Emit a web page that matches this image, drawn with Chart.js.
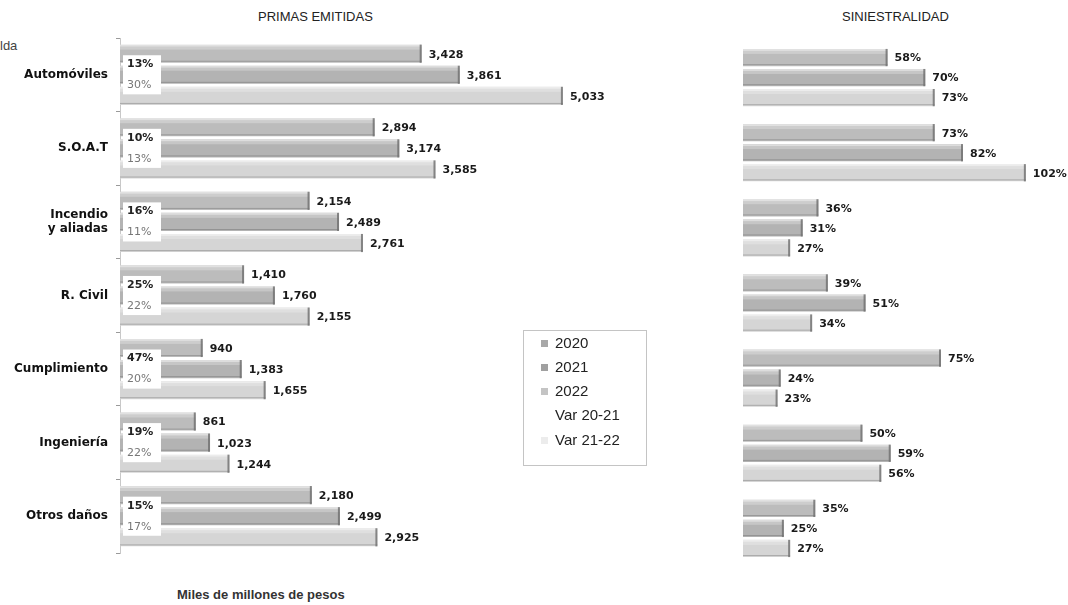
<!DOCTYPE html>
<html>
<head>
<meta charset="utf-8">
<script src="https://cdn.jsdelivr.net/npm/chart.js@4.4.1/dist/chart.umd.min.js"></script>
<style>
  html, body { margin:0; padding:0; background:#fff; }
  body { width:1068px; height:605px; position:relative; overflow:hidden; font-family:"Liberation Sans", Arial, sans-serif; }
  #c1 { position:absolute; left:0; top:0; }
  #c2 { position:absolute; left:700px; top:0; }
  .t { position:absolute; color:#222; white-space:nowrap; }
  #legend { position:absolute; left:523px; top:330px; width:122px; height:134px; border:1px solid #c4c4c4; }
  .li { position:absolute; left:0; height:20px; font-size:15px; line-height:20px; color:#222; white-space:nowrap; }
  .mk { position:absolute; left:17px; top:7px; width:7px; height:7px; }
  .lt { position:absolute; left:31px; top:0; }
</style>
</head>
<body>
<div class="t" style="left:0;top:38px;font-size:13px;color:#444;">lda</div>
<div class="t" id="title1" style="left:258px;top:9px;font-size:13px;">PRIMAS EMITIDAS</div>
<div class="t" id="title2" style="left:842px;top:9px;font-size:13px;">SINIESTRALIDAD</div>
<div class="t" id="xlab" style="left:177px;top:587px;font-size:13px;font-weight:bold;color:#333;">Miles de millones de pesos</div>
<canvas id="c1" width="700" height="605"></canvas>
<canvas id="c2" width="368" height="605"></canvas>
<div id="legend"></div>
<script>
// ---- Data ----
const categories = ["Automóviles", "S.O.A.T", ["Incendio", "y aliadas"], "R. Civil", "Cumplimiento", "Ingeniería", "Otros daños"];
const seriesNames = ["2020", "2021", "2022", "Var 20-21", "Var 21-22"];
const primas2020 = [3428, 2894, 2154, 1410, 940, 861, 2180];
const primas2021 = [3861, 3174, 2489, 1760, 1383, 1023, 2499];
const primas2022 = [5033, 3585, 2761, 2155, 1655, 1244, 2925];
const var2021 = [13, 10, 16, 25, 47, 19, 15];
const var2122 = [30, 13, 11, 22, 20, 22, 17];
const sin2020 = [58, 73, 36, 39, 75, 50, 35];
const sin2021 = [70, 82, 31, 51, 24, 59, 25];
const sin2022 = [73, 102, 27, 34, 23, 56, 27];

const barColors = ["#bcbcbc", "#b3b3b3", "#d5d5d5"];
const FONT = '"DejaVu Sans", sans-serif';

function fmtNum(v) { return v.toLocaleString('en-US'); }

// Bar shading plugin (highlight top, darker bottom line)
const shadePlugin = {
  id: 'shade',
  afterDatasetsDraw(chart) {
    const ctx = chart.ctx;
    const area = chart.chartArea;
    ctx.save();
    ctx.beginPath();
    ctx.rect(area.left, area.top, area.right - area.left, area.bottom - area.top);
    ctx.clip();
    chart.data.datasets.forEach((ds, di) => {
      const meta = chart.getDatasetMeta(di);
      meta.data.forEach(el => {
        const x0 = Math.max(el.base, area.left), x1 = el.x;
        const top = el.y - el.height / 2, bot = el.y + el.height / 2;
        ctx.fillStyle = 'rgba(255,255,255,0.55)';
        ctx.fillRect(x0, top, x1 - x0, 2);
        ctx.fillStyle = 'rgba(255,255,255,0.25)';
        ctx.fillRect(x0, top + 2, x1 - x0, 3);
        ctx.fillStyle = 'rgba(90,90,90,0.35)';
        ctx.fillRect(x0, bot - 2, x1 - x0, 1);
        ctx.fillStyle = 'rgba(110,110,110,0.8)';
        ctx.fillRect(x1 - 2, top, 2, el.height);
      });
    });
    ctx.restore();
  }
};

// Value labels plugin
function valueLabels(fmt, fontSize) {
  return {
    id: 'vlabels',
    afterDatasetsDraw(chart) {
      const ctx = chart.ctx;
      ctx.save();
      ctx.font = 'bold ' + fontSize + 'px ' + FONT;
      ctx.fillStyle = '#1a1a1a';
      ctx.textBaseline = 'middle';
      ctx.textAlign = 'left';
      chart.data.datasets.forEach((ds, di) => {
        const meta = chart.getDatasetMeta(di);
        meta.data.forEach((el, i) => {
          ctx.fillText(fmt(ds.data[i]), el.x + 7, el.y + 1);
        });
      });
      ctx.restore();
    }
  };
}

// Variation labels (white box at the bar start)
const varPlugin = {
  id: 'varlabels',
  afterDatasetsDraw(chart) {
    const ctx = chart.ctx;
    const m0 = chart.getDatasetMeta(0), m1 = chart.getDatasetMeta(1), m2 = chart.getDatasetMeta(2);
    const left = chart.chartArea.left;
    ctx.save();
    ctx.textBaseline = 'middle';
    categories.forEach((c, i) => {
      const y1 = (m0.data[i].y + m1.data[i].y) / 2;
      const y2 = (m1.data[i].y + m2.data[i].y) / 2;
      ctx.fillStyle = '#ffffff';
      ctx.fillRect(left + 3, y1 - 9, 38, y2 - y1 + 18);
      ctx.font = 'bold 11px ' + FONT;
      ctx.fillStyle = '#222';
      ctx.fillText(var2021[i] + '%', left + 7, y1);
      ctx.font = '11px ' + FONT;
      ctx.fillStyle = '#777';
      ctx.fillText(var2122[i] + '%', left + 7, y2);
    });
    ctx.restore();
  }
};

const primasDatasets = [primas2020, primas2021, primas2022].map((d, k) => ({
  label: seriesNames[k], data: d, backgroundColor: barColors[k],
  borderWidth: 0, categoryPercentage: 0.86, barPercentage: 0.86
}));

new Chart(document.getElementById('c1'), {
  type: 'bar',
  data: { labels: categories, datasets: primasDatasets },
  options: {
    indexAxis: 'y', responsive: false, animation: false,
    layout: { padding: { left: 0, right: 52, top: 38, bottom: 52 } },
    plugins: { legend: { display: false }, tooltip: { enabled: false } },
    scales: {
      x: { display: false, min: 0, max: 6000 },
      y: {
        afterFit(scale) { scale.width = 120; },
        grid: { drawOnChartArea: false, tickLength: 4, offset: true, color: '#9a9a9a' },
        border: { color: '#c8c8c8' },
        ticks: { color: '#111', padding: 8, font: { family: FONT, size: 12, weight: 'bold' } }
      }
    }
  },
  plugins: [shadePlugin, varPlugin, valueLabels(fmtNum, 11)]
});

const sinDatasets = [sin2020, sin2021, sin2022].map((d, k) => ({
  label: seriesNames[k], data: d, backgroundColor: barColors[k],
  borderWidth: 0, categoryPercentage: 0.8, barPercentage: 0.86
}));

new Chart(document.getElementById('c2'), {
  type: 'bar',
  data: { labels: categories, datasets: sinDatasets },
  options: {
    indexAxis: 'y', responsive: false, animation: false,
    layout: { padding: { left: 43, right: 17, top: 40, bottom: 39 } },
    plugins: { legend: { display: false }, tooltip: { enabled: false } },
    scales: {
      x: { display: false, min: 12, max: 110 },
      y: { display: false }
    }
  },
  plugins: [shadePlugin, valueLabels(v => v + '%', 11)]
});

// HTML legend
const legendMarks = ["#a8a8a8", "#a0a0a0", "#c4c4c4", "transparent", "#ececec"];
const legendTops = [2, 26, 50, 74, 99];
const lg = document.getElementById('legend');
seriesNames.forEach((n, k) => {
  const d = document.createElement('div');
  d.className = 'li';
  d.style.top = legendTops[k] + 'px';
  d.innerHTML = '<span class="mk" style="background:' + legendMarks[k] + '"></span><span class="lt">' + n + '</span>';
  lg.appendChild(d);
});
</script>
</body>
</html>
